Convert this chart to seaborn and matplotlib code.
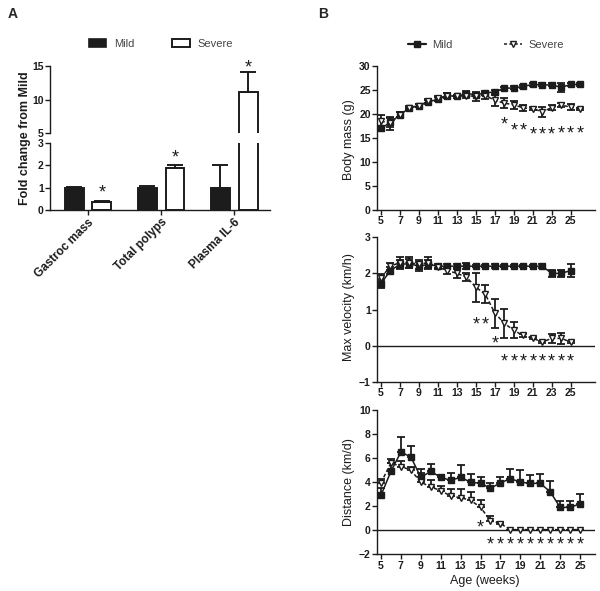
import numpy as np
import pandas as pd
import matplotlib
matplotlib.use('Agg')
import matplotlib.pyplot as plt
import seaborn as sns
from matplotlib.lines import Line2D
from matplotlib.patches import Patch

sns.set_theme(style='ticks')
plt.rcParams['font.family'] = ['Liberation Sans', 'DejaVu Sans']

# ---------------- Panel A data ----------------
categories = ['Gastroc mass', 'Total polyps', 'Plasma IL-6']
groups = ['Mild', 'Severe']
fold_mild = [1.0, 1.0, 1.0]
fold_mild_err = [0.05, 0.08, 1.0]
fold_severe = [0.38, 1.87, 11.1]
fold_severe_err = [0.03, 0.15, 3.0]
fold_sig_y_low = [0.99, 2.6, None]
fold_sig_y_up = [None, None, 15.55]

# ---------------- Panel B data ----------------
weeks_mass = [5, 6, 7, 8, 9, 10, 11, 12, 13, 14, 15, 16, 17, 18, 19, 20, 21, 22, 23, 24, 25, 26]
mass_mild = [17.0, 18.2, 19.8, 21.2, 21.7, 22.5, 23.0, 23.8, 23.6, 24.2, 24.0, 24.3,
             24.6, 25.3, 25.4, 25.7, 26.1, 26.0, 26.0, 25.5, 26.1, 26.1]
mass_mild_err = [0.5, 1.0, 0.5, 0.3, 0.3, 0.4, 0.4, 0.5, 0.4, 0.5, 0.4, 0.4,
                 0.4, 0.3, 0.3, 0.3, 0.3, 0.3, 0.3, 0.9, 0.3, 0.3]
mass_severe = [18.5, 18.0, 19.8, 21.3, 21.7, 22.6, 23.2, 23.8, 23.6, 23.8, 23.6, 23.8,
               22.8, 22.2, 21.9, 21.2, 21.1, 20.4, 21.3, 21.8, 21.4, 21.0]
mass_severe_err = [1.2, 1.3, 0.5, 0.3, 0.3, 0.4, 0.5, 0.5, 0.4, 0.6, 0.9, 0.8,
                   1.2, 1.0, 0.8, 0.6, 0.3, 1.0, 0.6, 0.4, 0.6, 0.3]
mass_sig_weeks = [18, 19, 20, 21, 22, 23, 24, 25, 26]
mass_sig_y = [18.75, 17.6, 17.6, 16.7, 16.7, 16.7, 17.0, 17.0, 17.0]

weeks_run = [5, 6, 7, 8, 9, 10, 11, 12, 13, 14, 15, 16, 17, 18, 19, 20, 21, 22, 23, 24, 25]
vel_mild = [1.72, 2.08, 2.25, 2.27, 2.2, 2.25, 2.2, 2.2, 2.2, 2.2, 2.2, 2.2,
            2.2, 2.2, 2.2, 2.2, 2.2, 2.2, 2.0, 2.0, 2.08]
vel_mild_err = [0.12, 0.1, 0.12, 0.12, 0.12, 0.12, 0.06, 0.05, 0.05, 0.08, 0.03, 0.03,
                0.05, 0.03, 0.03, 0.03, 0.03, 0.06, 0.1, 0.1, 0.18]
vel_severe = [1.88, 2.2, 2.3, 2.3, 2.25, 2.3, 2.17, 2.08, 2.0, 1.9, 1.62, 1.42,
              0.9, 0.62, 0.42, 0.28, 0.2, 0.1, 0.2, 0.2, 0.1]
vel_severe_err = [0.1, 0.1, 0.15, 0.15, 0.12, 0.15, 0.06, 0.1, 0.12, 0.12, 0.4, 0.25,
                  0.4, 0.4, 0.22, 0.05, 0.03, 0.03, 0.12, 0.15, 0.03]
vel_sig_weeks = [15, 16, 17, 18, 19, 20, 21, 22, 23, 24, 25]
vel_sig_y = [0.73, 0.73, 0.2, -0.3, -0.3, -0.3, -0.3, -0.3, -0.3, -0.3, -0.3]

dist_mild = [2.9, 4.9, 6.5, 6.1, 4.4, 4.9, 4.4, 4.15, 4.4, 4.0, 3.9, 3.5,
             3.93, 4.3, 4.0, 3.9, 3.9, 3.2, 1.9, 1.9, 2.2]
dist_mild_err = [0.6, 0.7, 1.25, 0.9, 0.7, 0.6, 0.2, 0.65, 1.0, 0.7, 0.5, 0.4,
                 0.5, 0.8, 1.05, 0.7, 0.8, 0.9, 0.5, 0.5, 0.8]
dist_severe = [3.95, 5.6, 5.3, 5.0, 4.0, 3.6, 3.3, 2.85, 2.7, 2.5, 1.9, 0.8,
               0.55, 0.05, 0.05, 0.05, 0.05, 0.05, 0.05, 0.05, 0.05]
dist_severe_err = [0.35, 0.35, 0.5, 0.3, 0.8, 0.6, 0.4, 0.55, 0.7, 0.7, 0.6, 0.4,
                   0.1, 0.0, 0.0, 0.0, 0.0, 0.0, 0.0, 0.0, 0.0]
dist_sig_weeks = [15, 16, 17, 18, 19, 20, 21, 22, 23, 24, 25]
dist_sig_y = [0.69, -0.78, -0.78, -0.78, -0.78, -0.78, -0.78, -0.78, -0.78, -0.78, -0.78]

week_ticks = [5, 7, 9, 11, 13, 15, 17, 19, 21, 23, 25]

INK = '#1c1c1c'
W, H = 600, 591
fig = plt.figure(figsize=(6, 5.91), dpi=100)


def px_axes(x0, y0, x1, y1):
    return fig.add_axes([x0 / W, 1 - y1 / H, (x1 - x0) / W, (y1 - y0) / H])


def style_ticks(ax, size=7.5):
    ax.tick_params(axis='both', direction='out', length=3.5, width=1.0, pad=1,
                   labelsize=size, colors=INK)
    for lbl in ax.get_xticklabels() + ax.get_yticklabels():
        lbl.set_fontweight('bold')
    for s in ax.spines.values():
        s.set_linewidth(1.0)
        s.set_color(INK)


def star(ax, x, y, clip=True):
    ax.annotate('*', (x, y), xytext=(0, -4.0), textcoords='offset points',
                ha='center', va='center', fontsize=13, color=INK,
                annotation_clip=False)

# ---------------- Panel A ----------------
df_fold = pd.DataFrame({
    'category': categories * 2,
    'group': ['Mild'] * 3 + ['Severe'] * 3,
    'value': fold_mild + fold_severe,
})
err_by_group = {'Mild': fold_mild_err, 'Severe': fold_severe_err}

axA_up = px_axes(50, 66, 270, 133)
axA_low = px_axes(50, 143, 270, 210)

for ax in (axA_up, axA_low):
    sns.barplot(data=df_fold, x='category', y='value', hue='group', order=categories,
                hue_order=groups, palette={'Mild': INK, 'Severe': 'white'},
                edgecolor=INK, linewidth=1.4, width=0.76, gap=0.32, saturation=1,
                errorbar=None, legend=False, ax=ax)
    for cont, g in zip(ax.containers, groups):
        for bar, e in zip(cont, err_by_group[g]):
            xc = bar.get_x() + bar.get_width() / 2
            h = bar.get_height()
            ax.errorbar([xc], [h], yerr=[[0], [e]], fmt='none', ecolor=INK,
                        elinewidth=1.4, capsize=5.5, capthick=1.4, zorder=3)
    ax.set_xlim(-0.52, 2.49)
    ax.set_xlabel('')
    ax.set_ylabel('')
    ax.spines['top'].set_visible(False)
    ax.spines['right'].set_visible(False)

axA_up.set_ylim(5, 15)
axA_up.set_yticks([5, 10, 15])
axA_up.spines['bottom'].set_visible(False)
axA_up.tick_params(axis='x', bottom=False, labelbottom=False)
axA_low.set_ylim(0, 3)
axA_low.set_yticks([0, 1, 2, 3])
axA_low.set_xticks(range(len(categories)))
axA_low.set_xticklabels(categories, rotation=45, ha='right', rotation_mode='anchor')
style_ticks(axA_up, 7.5)
style_ticks(axA_low, 7.5)
for lbl in axA_low.get_xticklabels():
    lbl.set_fontsize(8.5)

for i, y in enumerate(fold_sig_y_low):
    if y is not None:
        star(axA_low, axA_low.containers[1][i].get_x() + axA_low.containers[1][i].get_width() / 2, y)
for i, y in enumerate(fold_sig_y_up):
    if y is not None:
        star(axA_up, axA_up.containers[1][i].get_x() + axA_up.containers[1][i].get_width() / 2, y)

fig.text(25 / W, 1 - 138 / H, 'Fold change from Mild', rotation=90, ha='center',
         va='center', fontsize=9, fontweight='bold', color=INK)

legA = fig.legend(handles=[Patch(facecolor=INK, edgecolor=INK, linewidth=1.2),
                           Patch(facecolor='white', edgecolor=INK, linewidth=1.4)],
                  labels=groups, ncol=2, frameon=False, loc='center',
                  bbox_to_anchor=(161 / W, 1 - 44 / H), fontsize=8, labelcolor='#444444',
                  handlelength=1.6, handleheight=0.8, handletextpad=0.7,
                  columnspacing=3.4)

fig.text(8 / W, 1 - 14 / H, 'A', fontsize=10, fontweight='bold', ha='left', va='center')
fig.text(318 / W, 1 - 14 / H, 'B', fontsize=10, fontweight='bold', ha='left', va='center')

# ---------------- Panel B ----------------
def draw_series(ax, weeks, mild, mild_err, sev, sev_err, up_only):
    n = len(weeks)
    df = pd.DataFrame({'week': list(weeks) * 2, 'value': list(mild) + list(sev),
                       'group': ['Mild'] * n + ['Severe'] * n})
    for vals, errs, z in ((mild, mild_err, 1.6), (sev, sev_err, 2.6)):
        errs = np.asarray(errs)
        yerr = [np.zeros_like(errs), errs] if up_only else errs
        ax.errorbar(weeks, vals, yerr=yerr, fmt='none', ecolor=INK, elinewidth=1.3,
                    capsize=2.6, capthick=1.3, zorder=z)
    sns.lineplot(data=df, x='week', y='value', hue='group', style='group',
                 hue_order=groups, style_order=groups,
                 markers={'Mild': 's', 'Severe': 'v'},
                 dashes={'Mild': '', 'Severe': (2.5, 1.5)},
                 palette={'Mild': INK, 'Severe': INK}, linewidth=1.1,
                 markersize=4.8, markeredgecolor=INK, markeredgewidth=1.0,
                 errorbar=None, legend=False, ax=ax)
    for ln in ax.lines:
        if ln.get_marker() == 'v':
            ln.set_markerfacecolor('white')
            ln.set_zorder(2.8)
        elif ln.get_marker() == 's':
            ln.set_zorder(2.0)
    ax.set_xlabel('')
    ax.set_ylabel('')
    ax.set_xticks(week_ticks)
    ax.spines['top'].set_visible(False)
    ax.spines['right'].set_visible(False)

ax1 = px_axes(377, 65.7, 595, 210)
draw_series(ax1, weeks_mass, mass_mild, mass_mild_err, mass_severe, mass_severe_err, False)
ax1.set_xlim(4.58, 27.56)
ax1.set_ylim(0, 30)
ax1.set_yticks([0, 5, 10, 15, 20, 25, 30])
style_ticks(ax1)
for w, y in zip(mass_sig_weeks, mass_sig_y):
    star(ax1, w, y)

ax2 = px_axes(377, 237.3, 595, 381.7)
draw_series(ax2, weeks_run, vel_mild, vel_mild_err, vel_severe, vel_severe_err, False)
ax2.axhline(0, color=INK, linewidth=1.0, zorder=1)
ax2.set_xlim(4.58, 27.56)
ax2.set_ylim(-1, 3)
ax2.set_yticks([-1, 0, 1, 2, 3])
style_ticks(ax2)
for w, y in zip(vel_sig_weeks, vel_sig_y):
    star(ax2, w, y)

ax3 = px_axes(377, 410, 595, 554.3)
draw_series(ax3, weeks_run, dist_mild, dist_mild_err, dist_severe, dist_severe_err, True)
ax3.axhline(0, color=INK, linewidth=1.0, zorder=1)
ax3.set_xlim(4.6, 26.5)
ax3.set_ylim(-2, 10)
ax3.set_yticks([-2, 0, 2, 4, 6, 8, 10])
style_ticks(ax3)
for w, y in zip(dist_sig_weeks, dist_sig_y):
    star(ax3, w, y)

fig.text(349 / W, 1 - 140 / H, 'Body mass (g)', rotation=90, ha='center', va='center',
         fontsize=9, color=INK)
fig.text(349 / W, 1 - 307 / H, 'Max velocity (km/h)', rotation=90, ha='center',
         va='center', fontsize=9, color=INK)
fig.text(349 / W, 1 - 482 / H, 'Distance (km/d)', rotation=90, ha='center',
         va='center', fontsize=9, color=INK)
fig.text(485 / W, 1 - 581 / H, 'Age (weeks)', ha='center', va='center', fontsize=9,
         color=INK)

legB = fig.legend(handles=[Line2D([], [], color=INK, marker='s', markersize=4.5, lw=1.6),
                           Line2D([], [], color=INK, marker='v', markersize=4.8, lw=1.1,
                                  ls=(0, (2, 1.5)), markerfacecolor='white')],
                  labels=groups, ncol=2, frameon=False, loc='center',
                  bbox_to_anchor=(486 / W, 1 - 45 / H), fontsize=8, labelcolor='#444444',
                  handlelength=1.6, handletextpad=0.6, columnspacing=4.6)

fig.savefig('out.png', dpi=100, facecolor='white')
